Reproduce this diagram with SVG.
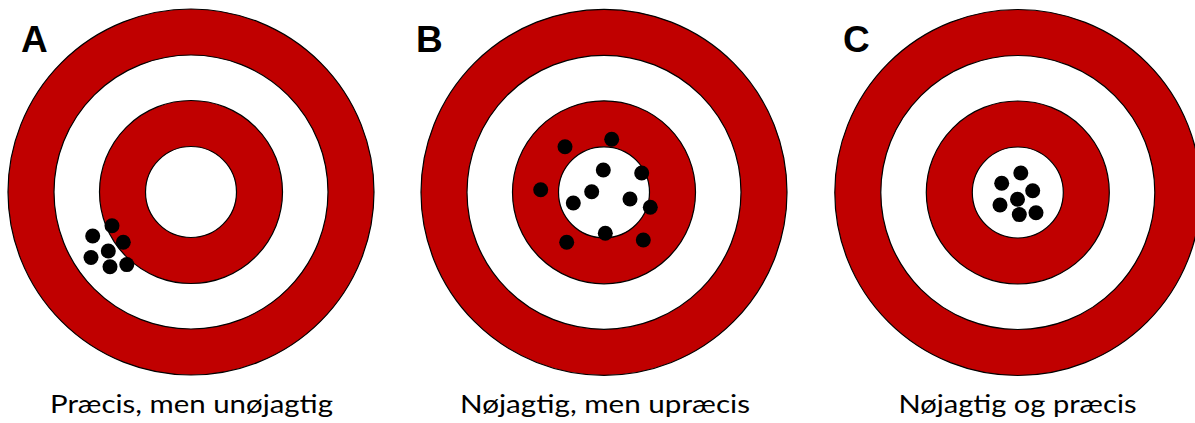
<svg xmlns="http://www.w3.org/2000/svg" width="1195" height="423" viewBox="0 0 1195 423">
<style>
.red{fill:#C00000;stroke:#000;stroke-width:1.2}
.wht{fill:#FFFFFF;stroke:#000;stroke-width:1.2}
.dot{fill:#000}
.lbl{font-family:"Liberation Sans",Arial,sans-serif;font-weight:bold;font-size:37px;fill:#000}
.cap{font-family:Lato,"Noto Sans",sans-serif;font-size:25px;fill:#000;text-anchor:middle}
</style>
<defs>
<g id="target">
<circle class="red" cx="0" cy="0" r="183"/>
<circle class="wht" cx="0" cy="0" r="137"/>
<circle class="red" cx="0" cy="0" r="91.5"/>
<circle class="wht" cx="0" cy="0" r="45.5"/>
</g>
</defs>
<rect width="1195" height="423" fill="#fff"/>
<g id="targetA">
<use href="#target" x="191" y="192"/>
<g class="dot">
<circle cx="112" cy="225.7" r="7.5"/>
<circle cx="92.7" cy="236" r="7.5"/>
<circle cx="123.3" cy="242.3" r="7.5"/>
<circle cx="108.3" cy="251" r="7.5"/>
<circle cx="91" cy="257.5" r="7.5"/>
<circle cx="110" cy="266.7" r="7.5"/>
<circle cx="126.8" cy="264.6" r="7.5"/>
</g>
<text class="lbl" x="21" y="52">A</text>
<text class="cap" x="191.5" y="413" textLength="283" lengthAdjust="spacingAndGlyphs">Præcis, men unøjagtig</text>
</g>
<g id="targetB">
<use href="#target" x="604" y="192.3"/>
<g class="dot">
<circle cx="565" cy="146.7" r="7.5"/>
<circle cx="611.7" cy="139.2" r="7.5"/>
<circle cx="603.3" cy="170" r="7.5"/>
<circle cx="641.7" cy="173" r="7.5"/>
<circle cx="540.7" cy="189.7" r="7.5"/>
<circle cx="591.7" cy="191.7" r="7.5"/>
<circle cx="573.3" cy="203" r="7.5"/>
<circle cx="630" cy="199" r="7.5"/>
<circle cx="650.3" cy="207.3" r="7.5"/>
<circle cx="605.3" cy="233.3" r="7.5"/>
<circle cx="566.7" cy="242.3" r="7.5"/>
<circle cx="643.3" cy="240" r="7.5"/>
</g>
<text class="lbl" x="416" y="52">B</text>
<text class="cap" x="605" y="413" textLength="290" lengthAdjust="spacingAndGlyphs">Nøjagtig, men upræcis</text>
</g>
<g id="targetC">
<use href="#target" x="1017.8" y="192.5"/>
<g class="dot">
<circle cx="1020.8" cy="173" r="7.5"/>
<circle cx="1001.7" cy="183.3" r="7.5"/>
<circle cx="1032.7" cy="190.7" r="7.5"/>
<circle cx="1017.5" cy="199.2" r="7.5"/>
<circle cx="1000" cy="205" r="7.5"/>
<circle cx="1019.3" cy="214.6" r="7.5"/>
<circle cx="1036" cy="212.7" r="7.5"/>
</g>
<text class="lbl" x="843" y="52">C</text>
<text class="cap" x="1017.5" y="413" textLength="238" lengthAdjust="spacingAndGlyphs">Nøjagtig og præcis</text>
</g>
<g id="connectors"></g>
</svg>
